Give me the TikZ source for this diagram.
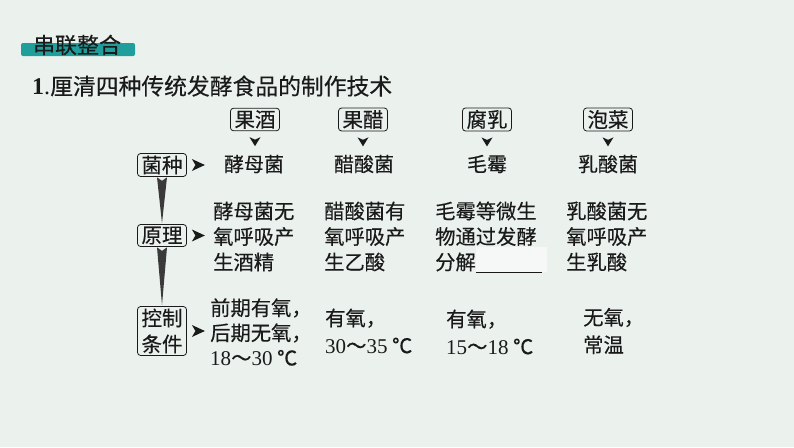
\documentclass[tikz,border=0pt]{standalone}
\usepackage{fontspec}
\setmainfont{Noto Sans CJK SC}[FakeBold=0.3]
\newfontfamily\numf{Liberation Serif}
\newcommand{\nm}[1]{{\numf\fontsize{21}{24}\selectfont #1}}
\usetikzlibrary{calc}
\definecolor{bgc}{HTML}{EBF2EE}
\definecolor{teal}{HTML}{1F9E9C}
\definecolor{ink}{HTML}{1A1A1A}
\definecolor{wedge}{HTML}{3A3A3A}
\definecolor{blankc}{HTML}{F5F8F6}
\tikzset{
  hbox/.style={draw=ink, line width=0.8pt, rounded corners=3pt, inner xsep=4pt, inner ysep=2pt, font=\fontsize{20.5}{24}\selectfont, text=ink},
  lbox/.style={draw=ink, line width=0.8pt, rounded corners=3pt, inner xsep=4pt, inner ysep=2pt, align=center, font=\fontsize{20.5}{26}\selectfont, text=ink},
  word/.style={inner sep=0pt, font=\fontsize{20}{24}\selectfont, text=ink},
  para/.style={inner sep=0pt, anchor=west, align=left, text=ink, font=\fontsize{20.3}{25.5}\selectfont},
  cond/.style={inner sep=0pt, anchor=west, align=left, text=ink, font=\fontsize{20.3}{27.5}\selectfont},
  tip/.style={fill=ink, draw=none},
}
\begin{document}
\begin{tikzpicture}[x=1pt,y=-1pt]
\fill[bgc] (0,0) rectangle (794,447);
\useasboundingbox (0,0) rectangle (794,447);
% section tag
\fill[teal, rounded corners=2pt] (21,43) rectangle (135,56);
\node[inner sep=0pt, font=\fontsize{22}{24}\selectfont, text=ink] (tag) at (77,45) {串联整合};
% title
\node[inner sep=0pt, anchor=west, font=\fontsize{22.8}{26}\selectfont, text=ink] (title) at (32,86) {{\numf\fontsize{24}{26}\selectfont\textbf{1}.}厘清四种传统发酵食品的制作技术};
% header boxes
\node[hbox] (h1) at (255,119.5) {果酒};
\node[hbox] (h2) at (363,119.5) {果醋};
\node[hbox] (h3) at (487,119.5) {腐乳};
\node[hbox] (h4) at (608,119.5) {泡菜};
% row 1 words
\node[word] (w1) at (254,164) {酵母菌};
\node[word] (w2) at (364,164) {醋酸菌};
\node[word] (w3) at (487,164) {毛霉};
\node[word] (w4) at (608,164) {乳酸菌};
% down arrowheads
\foreach \h/\w in {h1/w1,h2/w2,h3/w3,h4/w4}{
  \coordinate (t\h) at ($(\h.south)+(0,6)$);
  \fill[tip] ($(t\h)+(-5.5,0)$) -- ($(t\h)+(0,2.5)$) -- ($(t\h)+(5.5,0)$) -- ($(t\h)+(0,9)$) -- cycle;
}
% left boxes
\node[lbox] (b1) at (162,165) {菌种};
\node[lbox] (b2) at (162,235.5) {原理};
\node[lbox] (b3) at (162,331) {控制\\条件};
% right arrowheads
\foreach \b in {b1,b2,b3}{
  \coordinate (r\b) at ($(\b.east)+(5,0)$);
  \fill[tip] ($(r\b)+(0,-6)$) -- ($(r\b)+(13,0)$) -- ($(r\b)+(0,6)$) -- ($(r\b)+(3.5,0)$) -- cycle;
}
% vertical wedges
\fill[wedge] ($(b1.south)+(-5,0.5)$) -- ($(b1.south)+(0,4)$) -- ($(b1.south)+(5,0.5)$) -- ($(b2.north)+(0,-1)$) -- cycle;
\fill[wedge] ($(b2.south)+(-5,0.5)$) -- ($(b2.south)+(0,4)$) -- ($(b2.south)+(5,0.5)$) -- ($(b3.north)+(0,-1)$) -- cycle;
% row 2 paragraphs
\node[para] (p1) at (213,236.5) {酵母菌无\\氧呼吸产\\生酒精};
\node[para] (p2) at (324,236.5) {醋酸菌有\\氧呼吸产\\生乙酸};
\node[para] (p3) at (435,236.5) {毛霉等微生\\物通过发酵\\分解};
\node[para] (p4) at (566,236.5) {乳酸菌无\\氧呼吸产\\生乳酸};
% blank
\fill[blankc] (476,247) rectangle (547,271.5);
\coordinate (bl1) at (476,272);
\coordinate (bl2) at (542,272);
\draw[ink, line width=0.8pt] (bl1) -- (bl2);
% row 3
\node[para, font=\fontsize{20.3}{25}\selectfont] (c1) at (210,332) {前期有氧，\\后期无氧，\\\nm{18}～\nm{30} ℃};
\node[cond] (c2) at (325,331) {有氧，\\\nm{30}～\nm{35} ℃};
\node[cond] (c3) at (446,332) {有氧，\\\nm{15}～\nm{18} ℃};
\node[cond] (c4) at (583,331) {无氧，\\常温};
\end{tikzpicture}
\end{document}
